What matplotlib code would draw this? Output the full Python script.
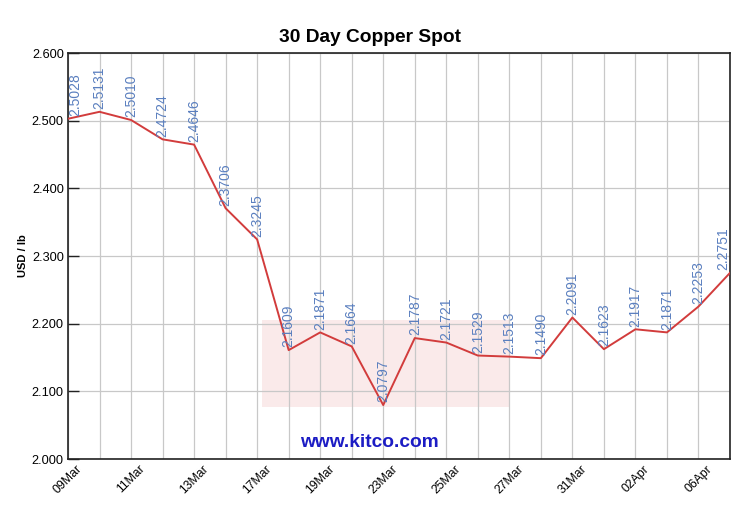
import numpy as np
import matplotlib.pyplot as plt
from matplotlib.patches import Rectangle

# datos: cobre spot, 30 dias
fechas = ['09Mar', '10Mar', '11Mar', '12Mar', '13Mar', '16Mar', '17Mar', '18Mar',
          '19Mar', '20Mar', '23Mar', '24Mar', '25Mar', '26Mar', '27Mar', '30Mar',
          '31Mar', '01Apr', '02Apr', '03Apr', '06Apr', '07Apr']
precios = [2.5028, 2.5131, 2.5010, 2.4724, 2.4646, 2.3706, 2.3245, 2.1609,
           2.1871, 2.1664, 2.0797, 2.1787, 2.1721, 2.1529, 2.1513, 2.1490,
           2.2091, 2.1623, 2.1917, 2.1871, 2.2253, 2.2751]
y_ticks = [2.0, 2.1, 2.2, 2.3, 2.4, 2.5, 2.6]

plt.rcParams['font.family'] = ['Liberation Sans', 'DejaVu Sans']

fig = plt.figure(figsize=(7.5, 5.23), dpi=100)
ax = fig.add_axes([68/750, 1 - 459/523, 662/750, 406/523])

x = np.arange(len(precios))

# marca de agua rosada (fondo)
ax.add_patch(Rectangle(((262 - 68)/662, (459 - 407)/406),
                       (510 - 262)/662, (407 - 320)/406,
                       transform=ax.transAxes, facecolor='#f4cccc',
                       alpha=0.4, edgecolor='none', zorder=0))

ax.plot(x, precios, color='#d23c3c', linewidth=1.4, zorder=3)

for i, (xi, p) in enumerate(zip(x, precios)):
    if i == 0:
        ha = 'left'
    elif i == len(precios) - 1:
        ha = 'right'
    else:
        ha = 'center'
    ax.text(xi, p + 0.004, f'{p:.4f}', rotation=90, ha=ha, va='bottom',
            fontsize=10, color='#5a7fbf', zorder=4)

ax.set_xlim(0, len(precios) - 1)
ax.set_ylim(2.0, 2.6)
ax.set_yticks(y_ticks)
ax.set_yticklabels([f'{v:.3f}' for v in y_ticks], fontsize=9.2)
ax.set_xticks(x)
ax.set_xticklabels([f if i % 2 == 0 else '' for i, f in enumerate(fechas)],
                   rotation=45, ha='center', fontsize=8.8)
ax.tick_params(axis='x', length=0, pad=3)
ax.tick_params(axis='y', length=8, width=1.0, direction='in', pad=3,
               color='#222222')

ax.grid(True, color='#c8c8c8', linewidth=0.9, zorder=1)
ax.set_axisbelow(True)
for s in ax.spines.values():
    s.set_color('#222222')
    s.set_linewidth(1.2)

ax.set_ylabel('USD / lb', fontsize=8, fontweight='bold', labelpad=3)
fig.text(370/750, 1 - 38/523, '30 Day Copper Spot', ha='center', va='center',
         fontsize=13.8, fontweight='bold')

ax.text((369 - 68)/662, 0.04, 'www.kitco.com', transform=ax.transAxes,
        ha='center', va='center', fontsize=13.8, fontweight='bold',
        color='#1c1cc4', zorder=5)

fig.savefig('out.png', dpi=100)
